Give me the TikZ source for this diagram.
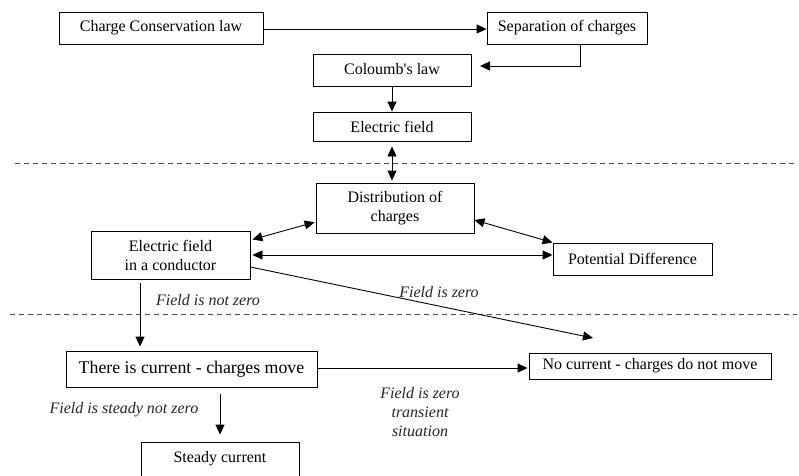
\documentclass[tikz,border=0pt]{standalone}
\usepackage{fontspec}
\setmainfont{Liberation Serif}
\usetikzlibrary{arrows.meta}
\begin{document}
\begin{tikzpicture}[x=1pt,y=-1pt,
  box/.style={draw,line width=0.9pt,inner sep=0pt,align=center,
    font=\fontsize{16}{19}\selectfont},
  arr/.style={line width=0.9pt,-{Triangle[length=10pt,width=9pt]}},
  darr/.style={line width=0.9pt,{Triangle[length=10pt,width=9pt]}-{Triangle[length=10pt,width=9pt]}},
  lbl/.style={font=\fontsize{16}{19}\selectfont\itshape,inner sep=0pt,align=center,text=black!85},
  sep line/.style={dash pattern=on 5pt off 4pt,line width=0.9pt,black!70}]
\clip (0,0) rectangle (799,475);
\fill[white] (0,0) rectangle (799,475);

\node[box,minimum width=204pt,minimum height=32pt] (cc) at (161,28) {Charge Conservation law};
\node[box,minimum width=160pt,minimum height=32pt] (sep) at (567,28) {Separation of charges};
\node[box,minimum width=158pt,minimum height=32pt] (coul) at (392,70) {\raisebox{3pt}{Coloumb\textquotesingle s law}};
\node[box,minimum width=158pt,minimum height=29pt] (ef) at (392,126.5) {Electric field};
\node[box,minimum width=158pt,minimum height=50pt] (dist) at (395,208) {Distribution of\\charges};
\node[box,minimum width=159pt,minimum height=48pt] (cond) at (170.5,255) {Electric field\\in a conductor};
\node[box,minimum width=159pt,minimum height=32pt] (pot) at (632.5,259) {Potential Difference};
\node[box,minimum width=251pt,minimum height=36pt,font=\fontsize{17.8}{20}\selectfont] (cur) at (191.5,369) {There is current - charges move};
\node[box,minimum width=242pt,minimum height=26pt] (nocur) at (650,366) {No current - charges do not move};
\node[box,minimum width=158pt,minimum height=36pt] (steady) at (220,460) {\raisebox{7pt}{Steady current}};

% dashed separators
\coordinate (d1a) at (15,163);
\coordinate (d1b) at (797,163);
\coordinate (d2a) at (10,314);
\coordinate (d2b) at (797,314);
\draw[sep line] (d1a) -- (d1b);
\draw[sep line] (d2a) -- (d2b);

% connectors
\draw[arr] ([yshift=-1pt]cc.east) -- ([yshift=-1pt]sep.west);
\coordinate (c1) at (480,66);
\draw[arr] ([xshift=13pt]sep.south) |- (c1);
\draw[arr] (coul.south) -- (ef.north);
\draw[darr,shorten <=5pt,shorten >=2pt] (ef.south) -- (ef.south |- dist.north);
\draw[darr,shorten <=2pt,shorten >=1pt] ([yshift=15pt]cond.east) -- ([yshift=-14pt]dist.west);
\draw[darr,shorten <=2pt] (cond.east) -- ([yshift=4pt]pot.west);
\draw[darr] ([yshift=-12pt]dist.east) -- (pot.north west);
\coordinate (fz) at (593,338);
\draw[arr] ([yshift=-12pt]cond.east) -- (fz);
\draw[arr,shorten <=4pt,shorten >=4pt] ([xshift=-30.5pt]cond.south) -- ([xshift=-30.5pt]cond.south |- cur.north);
\draw[arr,shorten >=1pt] ([yshift=1pt]cur.east) -- ([yshift=1pt]cur.east -| nocur.west);
\draw[arr,shorten <=7pt,shorten >=7pt] (steady.north |- cur.south) -- (steady.north);

% labels
\node[lbl] (l1) at (208,300) {Field is not zero};
\node[lbl] (l2) at (439,292) {Field is zero};
\node[lbl] (l3) at (124,410) {Field is steady not zero};
\node[lbl] (l4) at (420,412) {Field is zero\\transient\\situation};
\end{tikzpicture}
\end{document}
